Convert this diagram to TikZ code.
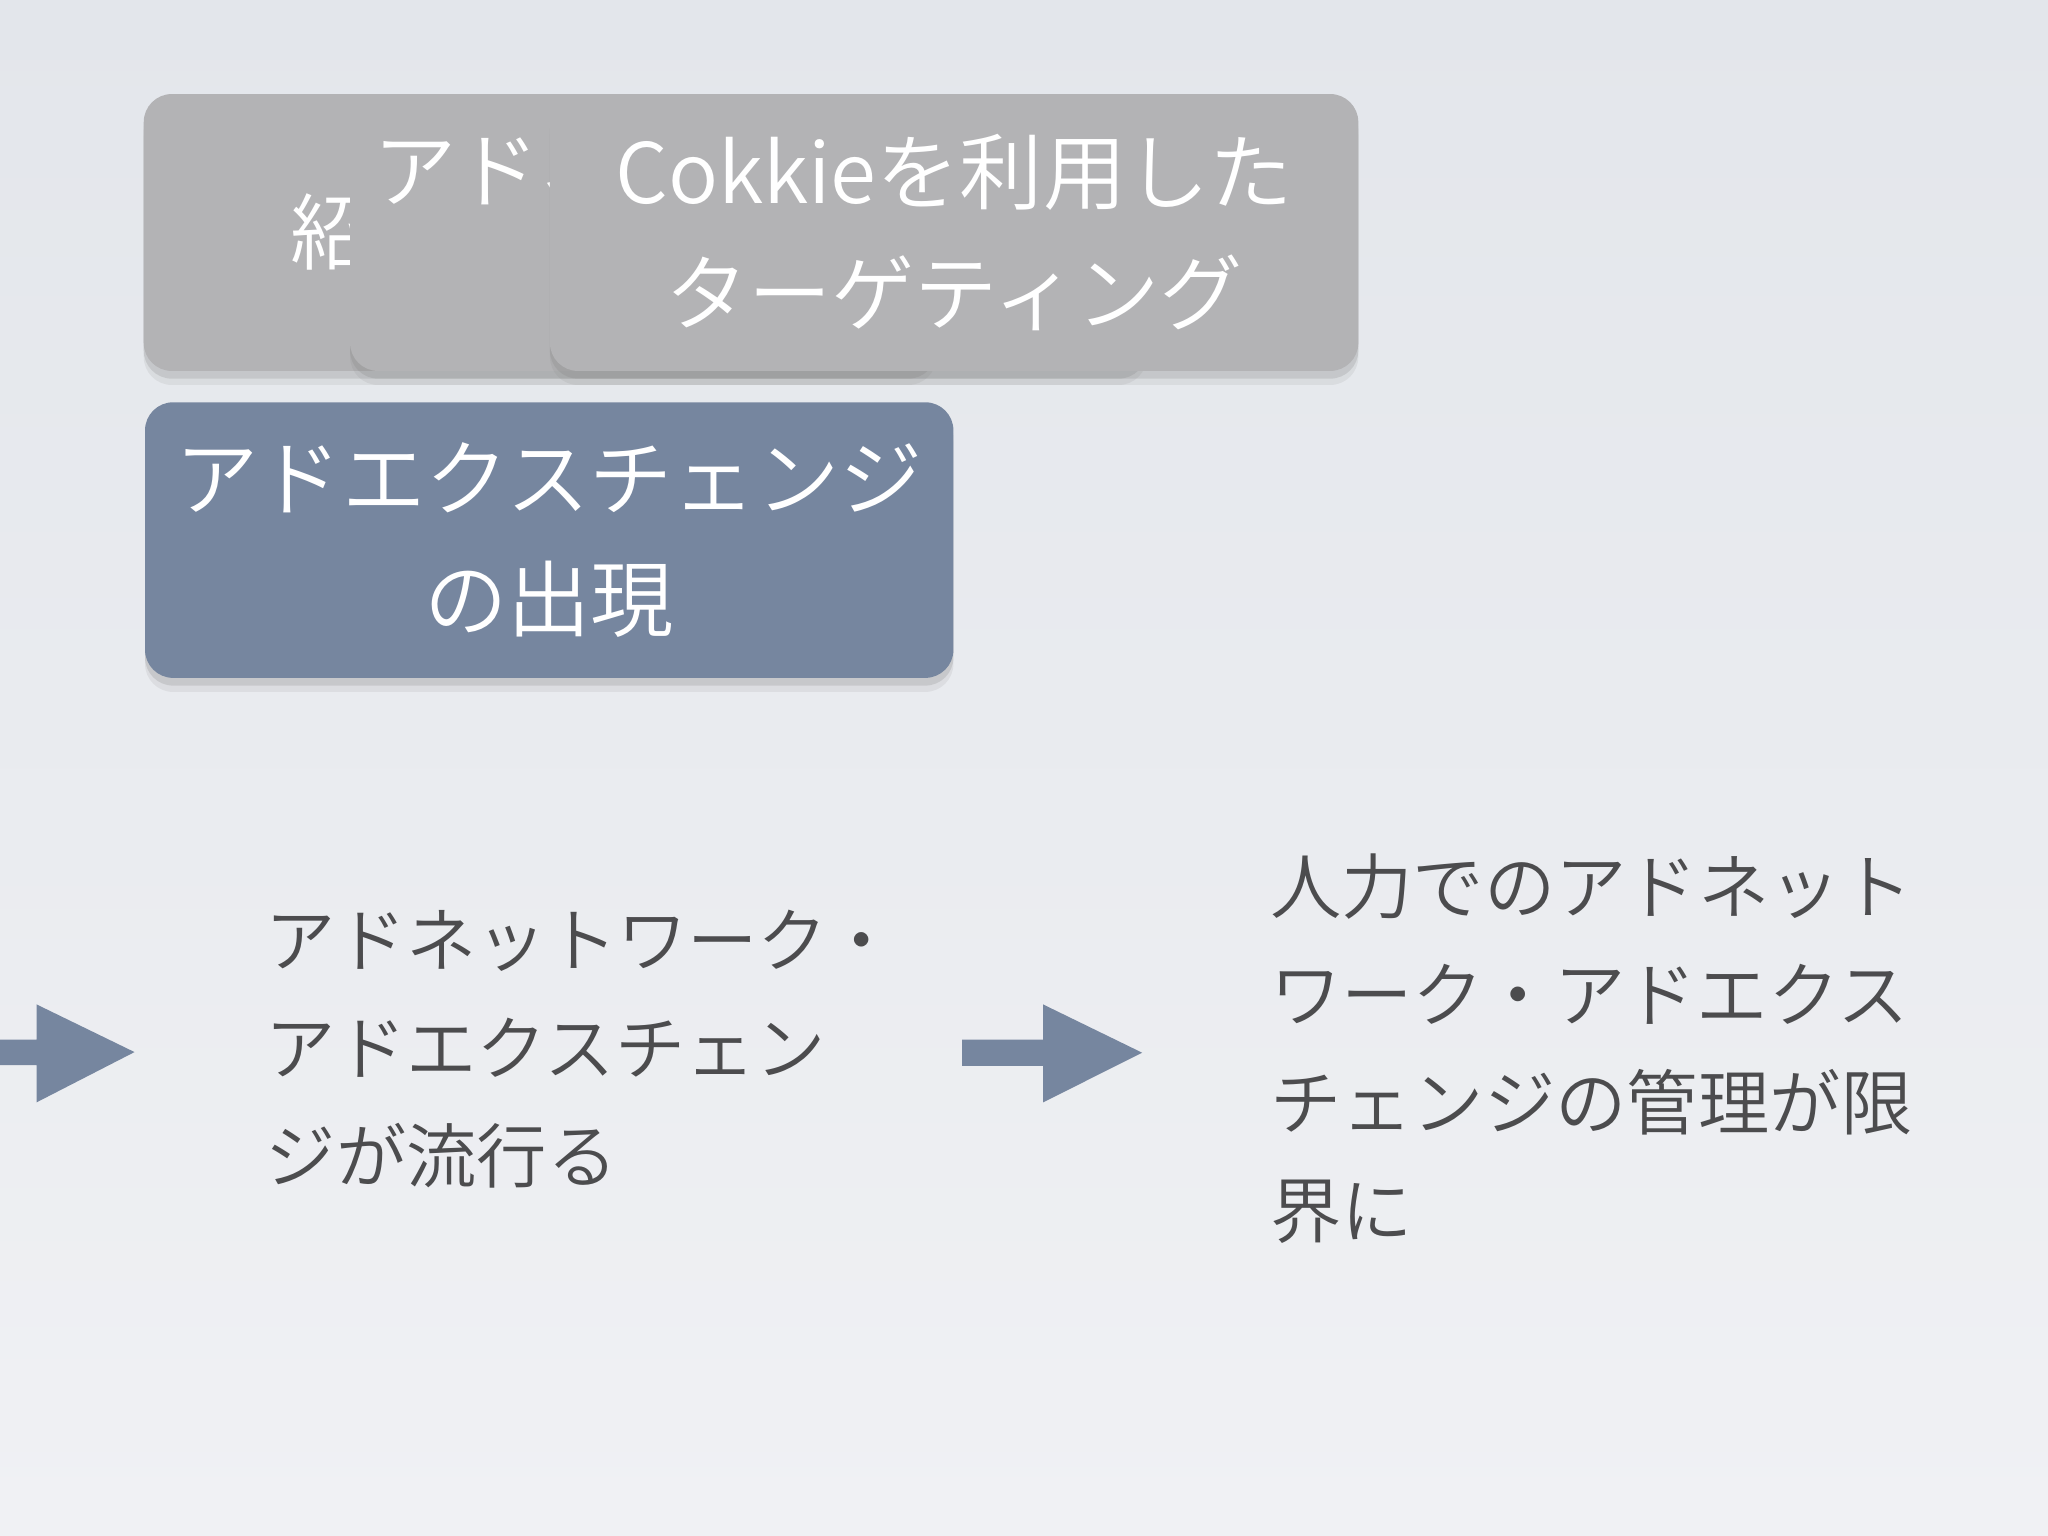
\documentclass[tikz,border=0pt]{standalone}
\usepackage{fontspec}
\IfFontExistsTF{Noto Sans CJK JP DemiLight}{\setmainfont{Noto Sans CJK JP DemiLight}}{\setmainfont{Noto Sans CJK JP}}
\usetikzlibrary{shadows}
\definecolor{bgtop}{HTML}{E3E6EB}
\definecolor{bgbot}{HTML}{F0F1F4}
\definecolor{grayfill}{HTML}{B3B3B5}
\definecolor{bluefill}{HTML}{76869F}
\definecolor{txt}{HTML}{4C4C4E}
\tikzset{
  card/.style={rounded corners=8pt, inner sep=0pt, align=center, text=white,
    font=\fontsize{23.7}{34.5}\selectfont,
    drop shadow={opacity=0.12, shadow xshift=0pt, shadow yshift=-4pt},
    drop shadow={opacity=0.22, shadow xshift=0pt, shadow yshift=-2.2pt}},
  graybox/.style={card, fill=grayfill},
  bluebox/.style={card, fill=bluefill},
  bodytext/.style={inner sep=0pt, align=left, text=txt, anchor=west,
    font=\fontsize{20}{30.7}\selectfont},
  blockarrow/.style={fill=bluefill}
}
\begin{document}
\begin{tikzpicture}[x=0.01306cm, y=-0.01306cm]
\shade[top color=bgtop, bottom color=bgbot] (0,0) rectangle (1568,1176);
\useasboundingbox (0,0) rectangle (1568,1176);

\node[graybox, minimum width=7.927cm, minimum height=2.769cm] (b1) at (413.5,178) {紹介型の広告};
\node[graybox, minimum width=7.967cm, minimum height=2.769cm] (b2) at (573,178) {アドネットワークの\\出現};
\node[graybox, minimum width=8.084cm, minimum height=2.769cm] (b3) at (730.5,178) {Cokkieを利用した\\ターゲティング};
\node[bluebox, minimum width=8.084cm, minimum height=2.756cm] (ax) at (420.5,413.5) {アドエクスチェンジ\\の出現};

\fill[blockarrow] (-10,796) -- (28,796) -- (28,769) -- (103,805.5) -- (28,844) -- (28,815.5) -- (-10,815.5) -- cycle;
\fill[blockarrow] (736.6,796) -- (798.6,796) -- (798.6,769) -- (874.5,806) -- (798.6,844) -- (798.6,816) -- (736.6,816) -- cycle;

\node[bodytext] (mid) at (203,803) {アドネットワーク・\\アドエクスチェン\\ジが流行る};
\node[bodytext, font=\fontsize{20.3}{30.7}\selectfont] (right) at (972,803) {人力でのアドネット\\ワーク・アドエクス\\チェンジの管理が限\\界に};
\end{tikzpicture}
\end{document}
